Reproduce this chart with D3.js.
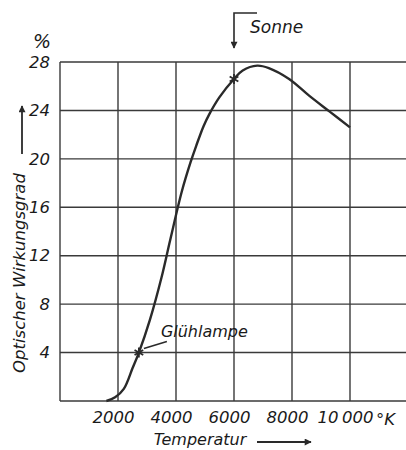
<!DOCTYPE html>
<html>
<head>
<meta charset="utf-8">
<script src="https://cdn.jsdelivr.net/npm/d3@7"></script>
<style>
  body { margin: 0; background: #fff; }
  svg { display: block; }
  text { font-family: "DejaVu Sans", sans-serif; font-style: italic; fill: #1a1a1a; }
  .grid line { stroke: #3a3a3a; stroke-width: 1.4; }
  .axis path, .axis line { display: none; }
  .axis text { font-size: 16.5px; }
</style>
</head>
<body>
<svg width="406" height="450"></svg>
<script>
var temps = [1600, 1900, 2200, 2500, 2720, 3100, 3500, 3800, 4200, 4500, 4700, 4950, 5150, 5500, 6000, 6300, 6800, 7200, 7900, 8600, 9300, 10000];
var eff = [0, 0.3, 1.0, 2.7, 4.0, 6.7, 10.2, 13.3, 17.3, 19.7, 21.1, 22.7, 23.7, 25.1, 26.6, 27.3, 27.7, 27.5, 26.6, 25.2, 23.9, 22.6];

// gemarkeerde punten
var markNames = ["Glühlampe", "Sonne"];
var markTemps = [2720, 6000];
var markEff = [4.0, 26.6];

// as labels
var xTicks = [2000, 4000, 6000, 8000, 10000];
var xGrid = [0, 2000, 4000, 6000, 8000, 10000, 12000];
var yTicks = [4, 8, 12, 16, 20, 24, 28];
var yGrid = [0, 4, 8, 12, 16, 20, 24, 28];

var svg = d3.select("svg"),
    margin = { top: 62, left: 60, bottom: 49 },
    width = +svg.attr("width"),
    height = +svg.attr("height");

var x = d3.scaleLinear().domain([0, 12000]).range([margin.left, 408]),
    y = d3.scaleLinear().domain([0, 28]).range([height - margin.bottom, margin.top]);

var ink = "#2a2a2a";

// pijlpunt
svg.append("defs").append("marker")
    .attr("id", "head")
    .attr("viewBox", "0 0 10 10")
    .attr("refX", 9).attr("refY", 5)
    .attr("markerWidth", 10).attr("markerHeight", 7)
    .attr("markerUnits", "userSpaceOnUse")
    .attr("orient", "auto")
    .append("path")
    .attr("d", "M0,0L10,5L0,10Z")
    .attr("fill", ink);

// rooster
var grid = svg.append("g").attr("class", "grid");
grid.selectAll(".v")
    .data(xGrid)
    .enter().append("line")
    .attr("class", "v")
    .attr("x1", function (d) { return x(d); })
    .attr("x2", function (d) { return x(d); })
    .attr("y1", y(0))
    .attr("y2", y(28));
grid.selectAll(".h")
    .data(yGrid)
    .enter().append("line")
    .attr("class", "h")
    .attr("x1", x(0))
    .attr("x2", x(12000))
    .attr("y1", function (d) { return y(d); })
    .attr("y2", function (d) { return y(d); });

// y as
svg.append("g")
    .attr("class", "axis axis--y")
    .attr("transform", "translate(" + (x(0) - 10) + ",0)")
    .call(d3.axisLeft(y).tickValues(yTicks).tickSize(0).tickPadding(0));

svg.append("text")
    .attr("x", 42).attr("y", 48)
    .attr("text-anchor", "middle")
    .style("font-size", "19px")
    .text("%");

// x as
svg.append("g")
    .attr("class", "axis axis--x")
    .attr("transform", "translate(-5," + (y(0) + 10) + ")")
    .call(d3.axisBottom(x).tickValues(xTicks).tickSize(0).tickPadding(0)
        .tickFormat(function (d) { return d === 10000 ? "10\u2009000" : d; }));

svg.append("text")
    .attr("x", x(10000) + 26).attr("y", y(0) + 24)
    .style("font-size", "16.5px")
    .text("°K");

// astitels met pijlen
svg.append("text")
    .attr("x", 200).attr("y", 445)
    .attr("text-anchor", "middle")
    .style("font-size", "16px")
    .text("Temperatur");
svg.append("line")
    .attr("x1", 257).attr("x2", 311)
    .attr("y1", 442).attr("y2", 442)
    .attr("stroke", ink).attr("stroke-width", 1.8)
    .attr("marker-end", "url(#head)");

svg.append("text")
    .attr("transform", "translate(25,273) rotate(-90)")
    .attr("text-anchor", "middle")
    .style("font-size", "16.5px")
    .text("Optischer Wirkungsgrad");
svg.append("line")
    .attr("x1", 22).attr("x2", 22)
    .attr("y1", 154).attr("y2", 106)
    .attr("stroke", ink).attr("stroke-width", 1.8)
    .attr("marker-end", "url(#head)");

// curve
var data = temps.map(function (t, i) { return { t: t, v: eff[i] }; });
var line = d3.line()
    .x(function (d) { return x(d.t); })
    .y(function (d) { return y(d.v); })
    .curve(d3.curveCatmullRom.alpha(0.5));

svg.append("path")
    .datum(data)
    .attr("d", line)
    .attr("fill", "none")
    .attr("stroke", ink)
    .attr("stroke-width", 2.4)
    .attr("stroke-linejoin", "round");

// sterretjes
svg.selectAll(".mark")
    .data(markTemps)
    .enter().append("path")
    .attr("class", "mark")
    .attr("transform", function (d, i) { return "translate(" + x(d) + "," + y(markEff[i]) + ")"; })
    .attr("d", d3.symbol().type(d3.symbolAsterisk).size(70))
    .attr("fill", "none")
    .attr("stroke", ink)
    .attr("stroke-width", 1.8);

// Glühlampe label
var gx = x(markTemps[0]), gy = y(markEff[0]);
svg.append("line")
    .attr("x1", gx + 5).attr("y1", gy - 4)
    .attr("x2", gx + 28).attr("y2", gy - 11)
    .attr("stroke", ink).attr("stroke-width", 1.6);
svg.append("text")
    .attr("x", gx + 22).attr("y", gy - 16)
    .style("font-size", "16px")
    .text(markNames[0]);

// Sonne label met geknikte pijl
var sx = x(markTemps[1]);
svg.append("path")
    .attr("d", "M" + (sx + 23) + ",13H" + sx + "V48")
    .attr("fill", "none")
    .attr("stroke", ink).attr("stroke-width", 1.6)
    .attr("marker-end", "url(#head)");
svg.append("text")
    .attr("x", sx + 16).attr("y", 33)
    .style("font-size", "17px")
    .text(markNames[1]);
</script>
</body>
</html>
